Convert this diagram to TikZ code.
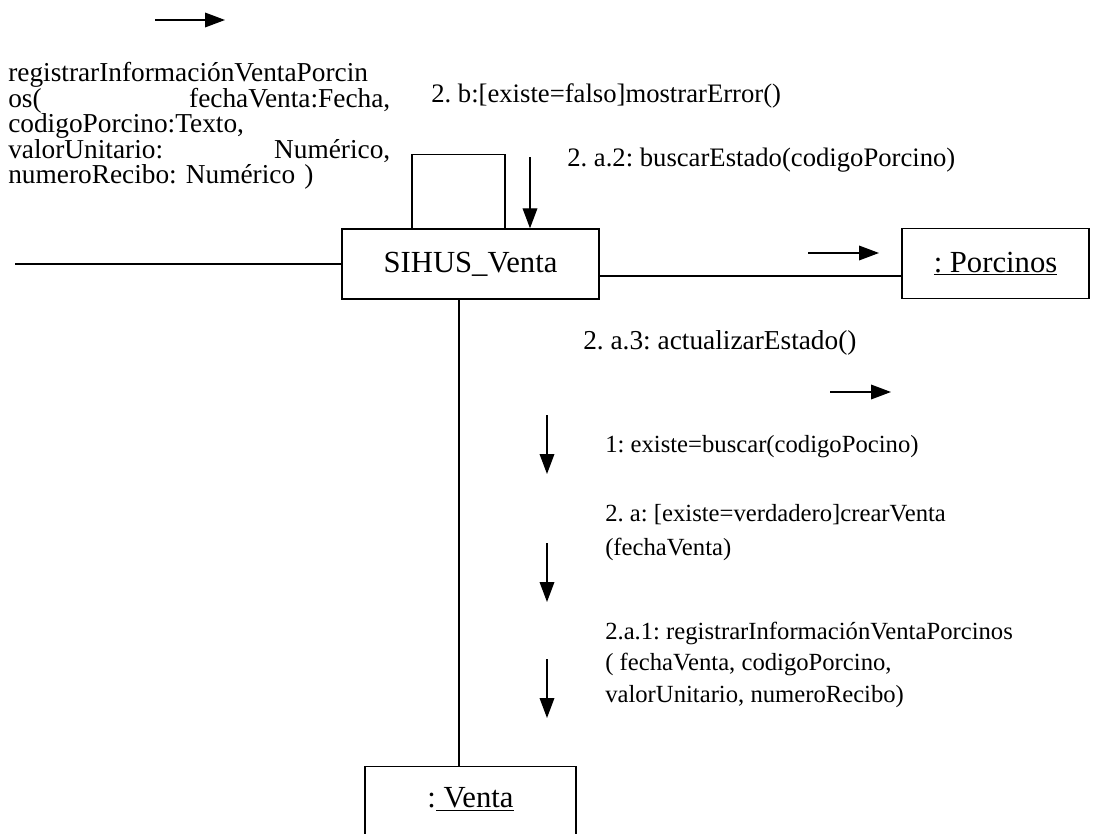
\documentclass[tikz,border=0pt]{standalone}
\usepackage{fontspec}
\setmainfont{Liberation Serif}
\usetikzlibrary{arrows.meta,positioning,calc}
\frenchspacing

\begin{document}
\begin{tikzpicture}[x=0.75pt,y=-0.75pt,
    obj/.style={draw,line width=1pt,minimum height=52.5pt,inner sep=0pt,
                font=\fontsize{23}{27}\selectfont},
    lnk/.style={line width=1pt},
    msg/.style={-{Triangle[length=15pt,width=11pt]},line width=1pt},
    lbl/.style={inner sep=0pt,anchor=base west,align=left,
                font=\fontsize{18.5}{25}\selectfont}]

  \useasboundingbox (0,0) rectangle (1100,834);
  \clip (0,0) rectangle (1100,834);

  % objects
  \node[obj,minimum width=192.75pt] (sihus) at (470.5,264) {SIHUS\_Venta};
  \node[obj,minimum width=140.25pt] (porc) at (995.5,263.5) {\underline{: Porcinos}};
  \node[obj,minimum width=158.25pt,anchor=north,inner ysep=4pt,
        text height=26.85pt,text depth=24pt] (venta) at (470.5,766) {:\underline{ Venta}};

  % links
  \coordinate (lft) at (15,264);
  \draw[lnk] (lft) -- (sihus.west);
  \draw[lnk] ($(sihus.east)+(0,12)$) -- ($(porc.west)+(0,12.5)$);
  \draw[lnk] ($(sihus.south)+(-11.5,0)$) -- ($(venta.north)+(-11.5,0)$);
  \draw[lnk] ($(sihus.north)+(-58.5,0)$) -- ++(0,-74) -| ($(sihus.north)+(34.5,0)$);

  % messages
  \draw[msg] (155,20) -- (225,20);
  \draw[msg] ($(sihus.north)+(59.5,-71)$) -- ($(sihus.north)+(59.5,0)$);
  \draw[msg] (808,253) -- (879,253);
  \draw[msg] (830,392) -- (891,392);
  \draw[msg] (547,415) -- (547,474);
  \draw[msg] (547,543) -- (547,602);
  \draw[msg] (547,659) -- (547,718);

  % labels
  \node[lbl,text width=286.5pt,font={\fontsize{20.5}{19.1}\selectfont\lineskiplimit=-30pt\relax}] (callin) at (8,82)
    {registrarInformaciónVentaPorcin\\
     os(\hfill fechaVenta:Fecha,\\
     codigoPorcino:Texto,\\
     valorUnitario:\hfill Numérico,\\
     numeroRecibo: Numérico )};
  \node[lbl,font=\fontsize{20}{24}\selectfont] (msgerr) at (431,103) {2. b:[existe=falso]mostrarError()};
  \node[lbl,font=\fontsize{20}{24}\selectfont] (msgbus) at (567,167) {2. a.2: buscarEstado(codigoPorcino)};
  \node[lbl,font=\fontsize{20.5}{24}\selectfont] (msgact) at (583,350) {2. a.3: actualizarEstado()};
  \node[lbl] (msgexi) at (605,452) {1: existe=buscar(codigoPocino)};
  \node[lbl] (msgcre) at (605,555) {2. a: [existe=verdadero]crearVenta\\(fechaVenta)};
  \node[lbl,font=\fontsize{18.5}{23.5}\selectfont] (msgreg) at (605,702)
    {2.a.1: registrarInformaciónVentaPorcinos\\( fechaVenta, codigoPorcino,\\valorUnitario, numeroRecibo)};
\end{tikzpicture}
\end{document}
